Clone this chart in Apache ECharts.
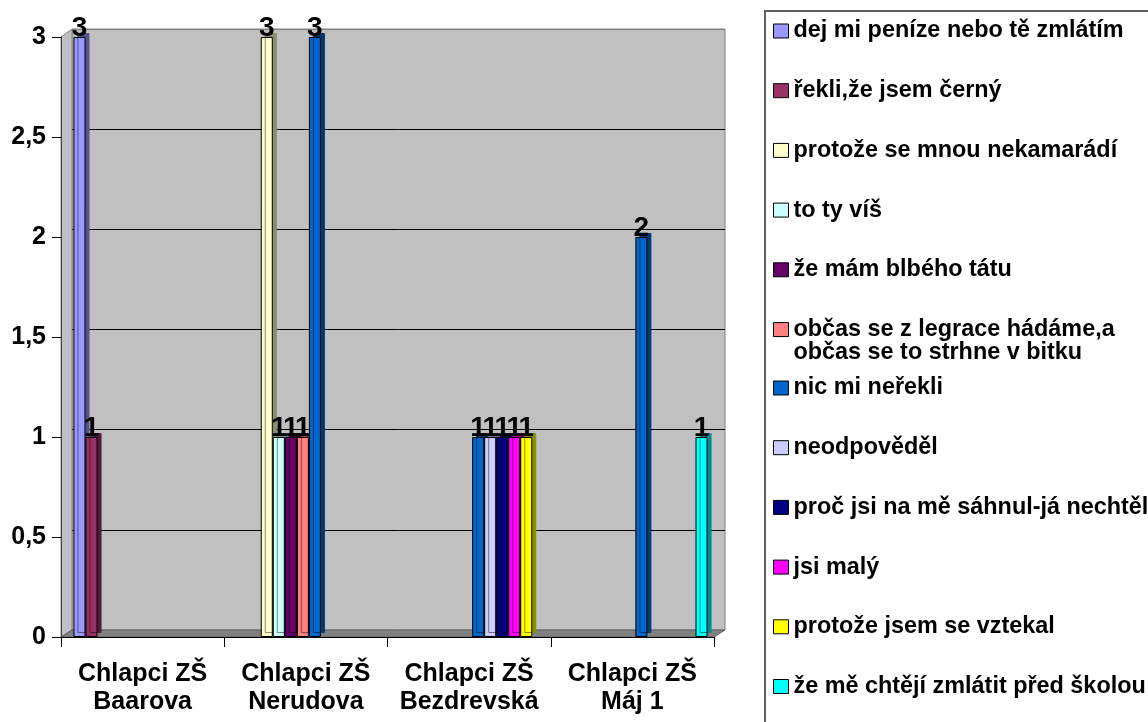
<!DOCTYPE html>
<html><head><meta charset="utf-8">
<script src="https://cdn.jsdelivr.net/npm/echarts@6/dist/echarts.min.js"></script>
<style>html,body{margin:0;padding:0;background:#fff}#c{width:1148px;height:722px}</style>
</head><body><div id="c"></div>
<script>
// ---- data ----
const categories = ['Chlapci ZŠ\nBaarova', 'Chlapci ZŠ\nNerudova', 'Chlapci ZŠ\nBezdrevská', 'Chlapci ZŠ\nMáj 1'];
const seriesNames = [
  'dej mi peníze nebo tě zmlátím',
  'řekli,že jsem černý',
  'protože se mnou nekamarádí',
  'to ty víš',
  'že mám blbého tátu',
  'občas se z legrace hádáme,a\nobčas se to strhne v bitku',
  'nic mi neřekli',
  'neodpověděl',
  'proč jsi na mě sáhnul-já nechtěl',
  'jsi malý',
  'protože jsem se vztekal',
  'že mě chtějí zmlátit před školou'
];
const dejMiPenize      = [3, null, null, null];
const rekliCerny       = [1, null, null, null];
const nekamaradi       = [null, 3, null, null];
const toTyVis          = [null, 1, null, null];
const blbyTata         = [null, 1, null, null];
const obcasLegrace     = [null, 1, null, null];
const nicMiNerekli     = [null, 3, 1, 2];
const neodpovedel      = [null, null, 1, null];
const procJsiSahnul    = [null, null, 1, null];
const jsiMaly          = [null, null, 1, null];
const vztekal          = [null, null, 1, null];
const predSkolou       = [null, null, null, 1];
const seriesValues = [dejMiPenize, rekliCerny, nekamaradi, toTyVis, blbyTata, obcasLegrace,
  nicMiNerekli, neodpovedel, procJsiSahnul, jsiMaly, vztekal, predSkolou];
const yTickLabels = ['0', '0,5', '1', '1,5', '2', '2,5', '3'];

// ---- style ----
const colors = ['#9999FF', '#993366', '#FFFFCC', '#CCFFFF', '#660066', '#FF8080',
  '#0066CC', '#CCCCFF', '#000080', '#FF00FF', '#FFFF00', '#00FFFF'];
function darken(hex, f) {
  const n = parseInt(hex.slice(1), 16);
  const r = Math.round(((n >> 16) & 255) * f), g = Math.round(((n >> 8) & 255) * f), b = Math.round((n & 255) * f);
  return 'rgb(' + r + ',' + g + ',' + b + ')';
}
const FONT = '"Liberation Sans", Arial, sans-serif';

const chart = echarts.init(document.getElementById('c'), null, {renderer: 'canvas'});
const yFmt = v => yTickLabels[Math.round(v * 2)];

const series = seriesNames.map((name, i) => ({
  name: name,
  type: 'bar',
  xAxisIndex: 2, yAxisIndex: 2,
  data: seriesValues[i],
  barGap: '0%',
  barCategoryGap: '11.6%',
  z: 3,
  itemStyle: {
    color: colors[i], borderColor: '#000', borderWidth: 1,
    shadowColor: darken(colors[i], 0.55), shadowBlur: 0, shadowOffsetX: 4, shadowOffsetY: -4
  },
  label: {
    show: true, position: 'top', distance: -5, color: '#000',
    fontFamily: FONT, fontWeight: 'bold', fontSize: 28
  },
  emphasis: {disabled: true}
}));

const legendText = {color: '#000', fontFamily: FONT, fontWeight: 'bold', fontSize: 23.4};
const legendCommon = {
  orient: 'vertical', left: 773, padding: 0,
  itemWidth: 15, itemHeight: 14, itemGap: 36.7,
  selectedMode: false, icon: 'rect',
  itemStyle: {borderColor: '#000', borderWidth: 1},
  formatter: name => name.indexOf('\n') < 0 ? name :
    name.split('\n').map((s, i) => '{' + (i ? 'l2' : 'l1') + '|' + s + '}').join('\n'),
  textStyle: Object.assign({}, legendText, {
    lineHeight: 23,
    rich: {
      l1: Object.assign({}, legendText, {lineHeight: 23}),
      l2: Object.assign({}, legendText, {lineHeight: 0.1, height: 23, verticalAlign: 'top'})
    }
  })
};

chart.setOption({
  animation: false,
  backgroundColor: '#fff',
  textStyle: {fontFamily: FONT},
  grid: [
    {left: 72, top: 29, width: 653, height: 601, show: true, backgroundColor: '#C0C0C0',
      borderColor: '#808080', borderWidth: 1, outerBoundsMode: 'none', containLabel: false},
    {left: 61, top: 37, width: 653, height: 600, outerBoundsMode: 'none', containLabel: false},
    {left: 64, top: 37, width: 653, height: 600, outerBoundsMode: 'none', containLabel: false}
  ],
  xAxis: [
    {gridIndex: 0, type: 'category', data: categories, show: false},
    {gridIndex: 1, type: 'category', data: categories, boundaryGap: true, z: 5,
      axisLine: {show: true, lineStyle: {color: '#000', width: 1}},
      axisTick: {show: true, length: 10, lineStyle: {color: '#000'}},
      axisLabel: {show: true, interval: 0, color: '#000', fontFamily: FONT, fontWeight: 'bold',
        fontSize: 25, lineHeight: 28, margin: 23},
      splitLine: {show: false}},
    {gridIndex: 2, type: 'category', data: categories, show: false}
  ],
  yAxis: [
    {gridIndex: 0, type: 'value', min: 0, max: 3, interval: 0.5,
      axisLine: {show: false}, axisTick: {show: false}, axisLabel: {show: false},
      splitLine: {show: true, lineStyle: {color: ['#808080', '#000', '#000', '#000', '#000', '#000', '#808080'], width: 1}}},
    {gridIndex: 1, type: 'value', min: 0, max: 3, interval: 0.5, z: 5,
      axisLine: {show: true, lineStyle: {color: '#404040', width: 1}},
      axisTick: {show: true, length: 9, lineStyle: {color: '#000'}},
      axisLabel: {show: true, color: '#000', fontFamily: FONT, fontWeight: 'bold', fontSize: 25,
        margin: 15, formatter: yFmt},
      splitLine: {show: false}},
    {gridIndex: 2, type: 'value', min: 0, max: 3, interval: 0.5, show: false, splitLine: {show: false}}
  ],
  legend: [
    Object.assign({}, legendCommon, {top: 19.5, data: seriesNames.slice(0, 6)}),
    Object.assign({}, legendCommon, {top: 376.5, data: seriesNames.slice(6)})
  ],
  graphic: [
    {type: 'rect', z: 0, shape: {x: 765, y: 11, width: 600, height: 800},
      style: {fill: 'none', stroke: '#606060', lineWidth: 2}},
    {type: 'polygon', z: 1, shape: {points: [[61, 37], [72, 29], [72, 630], [61, 637]]},
      style: {fill: '#C0C0C0', stroke: '#808080', lineWidth: 1}},
    {type: 'polygon', z: 1, shape: {points: [[61, 637], [72, 630], [725, 630], [714, 637]]},
      style: {fill: '#808080', stroke: '#606060', lineWidth: 1}}
  ],
  series: series
});
</script></body></html>
